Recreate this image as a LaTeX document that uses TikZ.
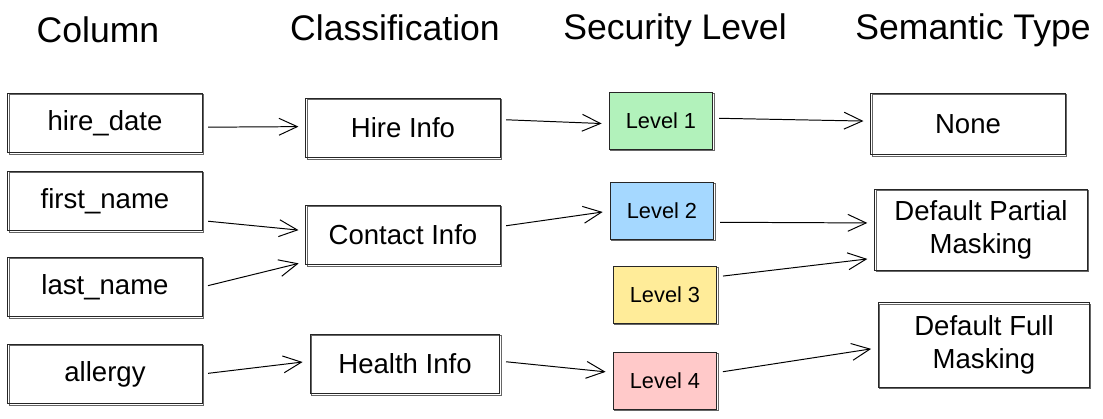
\documentclass[tikz,border=0pt]{standalone}
\usepackage{fontspec}
\setmainfont{Liberation Sans}
\usepackage{tikz}
\usetikzlibrary{arrows.meta}
\definecolor{lvlgreen}{HTML}{B2F2BB}
\definecolor{lvlblue}{HTML}{A5D8FF}
\definecolor{lvlyellow}{HTML}{FFEC99}
\definecolor{lvlpink}{HTML}{FFC9C9}
\tikzset{
    sketch/.style={draw=black!85, line width=0.7pt,
        preaction={draw=black!60, line width=0.4pt,
            transform canvas={xshift=0.8pt,yshift=-0.7pt}}},
    colbox/.style={sketch, minimum width=138pt, minimum height=42.6pt,
        inner sep=0pt, align=center, font=\fontsize{19.6}{23}\selectfont},
    lvlbox/.style={sketch, minimum width=73.8pt, minimum height=40.4pt,
        inner sep=0pt, font=\fontsize{15.5}{18}\selectfont},
    header/.style={font=\fontsize{25.3}{30}\selectfont},
    link/.style={line width=0.7pt, -{Straight Barb[length=13pt,width=12pt]},
        shorten <=4pt, shorten >=5pt},
}
\begin{document}
\begin{tikzpicture}[x=0.025cm,y=-0.025cm]
\useasboundingbox (0,0) rectangle (1103,419);
% headers
\node[header] (hcol) at (98,30) {Column};
\node[header] (hcls) at (395,28) {Classification};
\node[header] (hsec) at (675,30) {Security Level};
\node[header] (hsem) at (973,30) {Semantic Type};
% columns
\node[colbox] (hire) at (105,123) {hire\_date};
\node[colbox] (first) at (105,201) {first\_name};
\node[colbox] (last) at (105,287) {last\_name};
\node[colbox] (allergy) at (105,374) {allergy};
% classifications
\node[colbox] (hinfo) at (403,128) {Hire Info};
\node[colbox] (cinfo) at (403,235) {Contact Info};
\node[colbox, minimum width=135pt] (health) at (405,364) {Health Info};
% levels
\node[lvlbox, fill=lvlgreen] (l1) at (661,121) {Level 1};
\node[lvlbox, fill=lvlblue] (l2) at (662,211) {Level 2};
\node[lvlbox, fill=lvlyellow] (l3) at (665,295) {Level 3};
\node[lvlbox, fill=lvlpink] (l4) at (665,381) {Level 4};
% semantic types
\node[colbox, minimum height=44pt] (none) at (968,124) {None};
\node[colbox, minimum width=151pt, minimum height=58pt] (partial) at (981,230) {Default Partial\\Masking};
\node[colbox, minimum width=150pt, minimum height=60pt] (full) at (984,345) {Default Full\\Masking};
% links
\draw[link] ([yshift=-3pt]hire.east) -- ([yshift=1pt]hinfo.west);
\draw[link] ([yshift=-14pt]first.east) -- ([yshift=3pt]cinfo.west);
\draw[link] (last.east) -- ([yshift=-19pt]cinfo.west);
\draw[link] (allergy.east) -- ([yshift=2pt]health.west);
\draw[link] ([yshift=6pt]hinfo.east) -- ([yshift=-2pt]l1.west);
\draw[link] ([yshift=6pt]cinfo.east) -- (l2.west);
\draw[link] ([yshift=2pt]health.east) -- ([yshift=6pt]l4.west);
\draw[link] ([yshift=2pt]l1.east) -- ([yshift=2pt]none.west);
\draw[link] ([yshift=-8pt]l2.east) -- ([yshift=5pt]partial.west);
\draw[link] ([yshift=13pt]l3.east) -- ([yshift=-20pt]partial.west);
\draw[link] ([yshift=6pt]l4.east) -- ([yshift=-2pt]full.west);
\end{tikzpicture}
\end{document}
